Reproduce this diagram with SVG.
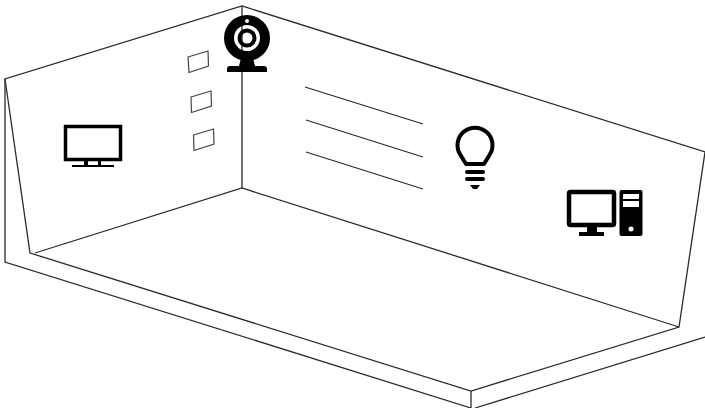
<svg xmlns="http://www.w3.org/2000/svg" width="705" height="408" viewBox="0 0 705 408">
  <style>
    .l { fill: none; stroke: #2b2b2b; stroke-width: 1.300; }
    .r { fill: #fff; stroke: #444; stroke-width: 1.200; }
    .i { fill: #000; }
    .s { fill: none; stroke: #000; }
  </style>
  <rect width="705" height="408" fill="#fff"/>
  <g id="connectors">
    <path class="l" d="M705 152 L242 6 L5 79 L30 253 L471 391 L679 327 L705 152"/>
    <path class="l" d="M5 79 V262 L471 408 M471 391 V408 M475 408 L705 337"/>
    <path class="l" d="M35 253 L242 188 L679 327 M242 6 V188"/>
    <path class="l" d="M305 87 L423 124 M306 120 L423 157 M306 152 L423 189"/>
  </g>
  <g id="window1"><path class="r" d="M188 57 L208 51 L208.500 66 L189 72.500 Z"/></g>
  <g id="window2"><path class="r" d="M191 97 L211 91 L211.500 106 L191.500 112.500 Z"/></g>
  <g id="window3"><path class="r" d="M193.500 135 L213.500 129 L214 144 L194 150.500 Z"/></g>
  <g id="webcam">
    <circle class="s" cx="247" cy="38" r="18" stroke-width="10"/>
    <circle class="s" cx="247" cy="38" r="7.500" stroke-width="4"/>
    <circle cx="247" cy="21" r="2" fill="#fff"/>
    <path class="i" d="M241 58 H253 L255 66 H264 Q267 66 267 69 V72 H227 V69 Q227 66 230 66 H239 Z"/>
  </g>
  <g id="tv">
    <rect class="s" x="65.500" y="126.500" width="55" height="33" stroke-width="3.500"/>
    <path class="i" d="M84 161 H88 V165 H98 V161 H101 V165 H114 V167 H72 V165 H84 Z"/>
  </g>
  <g id="bulb">
    <path class="s" stroke-width="4" stroke-linejoin="round" d="M466 164 L460.500 155 A17.500 17.500 0 1 1 489.500 155 L484 164 Z"/>
    <path class="s" stroke-width="4" stroke-linecap="round" d="M467 172 H483 M467 179 H483"/>
    <path class="i" d="M470 185 H480 L477 189 H473 Z"/>
  </g>
  <g id="computer">
    <rect class="s" x="569" y="192" width="45" height="33" rx="1.500" stroke-width="4.500"/>
    <path class="i" d="M587 226 H597 V232 H604 V236 H579 V232 H587 Z"/>
    <rect class="i" x="619.500" y="190" width="23" height="46" rx="2"/>
    <rect x="623" y="194" width="16" height="5" fill="#fff"/>
    <rect x="623" y="201" width="16" height="6" fill="#fff"/>
    <circle cx="631" cy="229" r="2.500" fill="#fff"/>
  </g>
</svg>
